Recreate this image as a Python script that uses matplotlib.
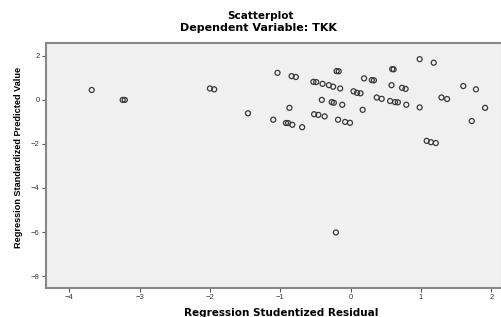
import matplotlib.pyplot as plt
import numpy as np

plt.rcParams['font.family'] = ['Liberation Sans', 'DejaVu Sans']

# Regression Studentized Residual (x) / Regression Standardized Predicted Value (y)
resid = [-3.68, -3.24, -3.21, -2.00, -1.94, -1.46,
         -1.04, -0.84, -0.78, -0.20, -0.17, -0.53, -0.49, -0.40,
         -0.31, -0.25, -0.15, 0.04, 0.09, 0.14, 0.19, 0.30, 0.33,
         0.59, 0.61, 0.58, 0.73, 0.78, 0.98, 1.18, 1.60, 1.78,
         1.91, 1.72, 1.29, 1.37, 0.98, 0.79, 0.56, 0.63, 0.67,
         0.37, 0.44, 0.17, -0.41, -0.27, -0.24, -0.12, -0.87, -1.10,
         -0.92, -0.89, -0.83, -0.69, -0.52, -0.46, -0.37, -0.18, -0.08,
         -0.01, 1.08, 1.14, 1.21, -0.21]
pred = [0.45, 0.00, 0.00, 0.52, 0.48, -0.61,
        1.23, 1.08, 1.04, 1.31, 1.30, 0.82, 0.81, 0.73,
        0.67, 0.60, 0.52, 0.39, 0.32, 0.30, 0.98, 0.90, 0.89,
        1.40, 1.39, 0.67, 0.55, 0.50, 1.85, 1.69, 0.63, 0.48,
        -0.36, -0.96, 0.11, 0.04, -0.34, -0.22, -0.05, -0.10, -0.11,
        0.11, 0.05, -0.45, 0.00, -0.10, -0.13, -0.22, -0.36, -0.90,
        -1.05, -1.05, -1.13, -1.24, -0.65, -0.68, -0.75, -0.90, -1.00,
        -1.04, -1.86, -1.92, -1.96, -6.02]

xticks = [-4, -3, -2, -1, 0, 1, 2]
yticks = [2, 0, -2, -4, -6, -8]

fig = plt.figure(figsize=(5.02, 3.17), dpi=100)
ax = fig.add_axes([0.0916, 0.0924, 0.9084, 0.773])
ax.set_facecolor('#f0f0f0')

ax.scatter(resid, pred, s=13, facecolors='none', edgecolors='#383838', linewidths=0.9)

ax.set_xlim(-4.33, 2.15)
ax.set_ylim(-8.53, 2.6)
ax.set_xticks(xticks)
ax.set_yticks(yticks)
ax.tick_params(labelsize=5.5, length=3, width=0.8, colors='#555555', labelcolor='#333333', pad=1.5)

for s in ax.spines.values():
    s.set_color('#888888')
    s.set_linewidth(1.5)

# titles
bold = dict(fontweight='bold', family='DejaVu Sans')
fig.text(0.518, 0.9495, 'Scatterplot', ha='center', va='center', fontsize=7.5, **bold)
fig.text(0.515, 0.913, 'Dependent Variable: TKK', ha='center', va='center', fontsize=8, **bold)
fig.text(0.56, 0.014, 'Regression Studentized Residual', ha='center', va='center', fontsize=7.5, **bold)
fig.text(0.036, 0.504, 'Regression Standardized Predicted Value', ha='center', va='center',
         rotation=90, fontsize=6.6, fontweight='bold')

plt.savefig('out.png', dpi=100)
